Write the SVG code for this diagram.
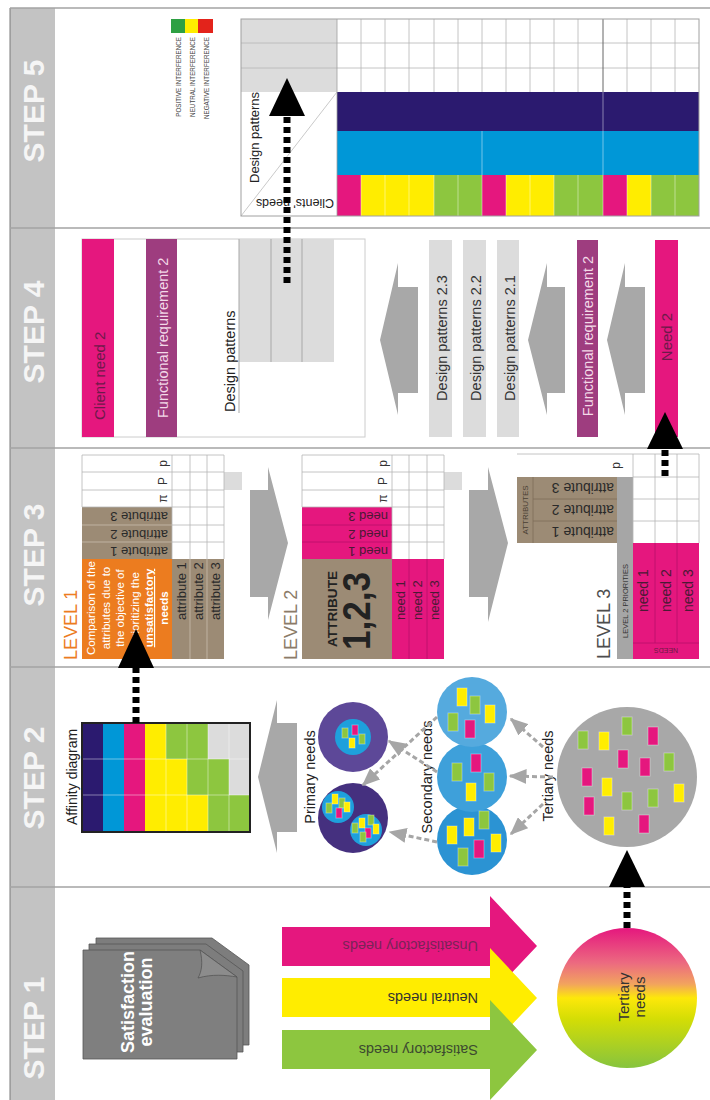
<svg xmlns="http://www.w3.org/2000/svg" width="710" height="1100" viewBox="0 0 710 1100">
<defs>
<style>
text{font-family:"Liberation Sans",Arial,sans-serif}
.sl{font-size:30px;font-weight:bold;fill:#f5f5f5}
.dv{stroke:#a3a3a3;stroke-width:1.5}
.gl{stroke:#b5b5b5;stroke-width:0.8;fill:none}
.wl{stroke:#ffffff;stroke-opacity:0.55;stroke-width:0.8;fill:none}
.pk{fill:#e5177e}.yl{fill:#ffed00}.gr{fill:#8dc63f}.db{fill:#2b1a6f}.cy{fill:#0097d7}
.lg{fill:#dcdcdc}.br{fill:#9c8b75}.or{fill:#ec7c1f}.pu{fill:#9e3d7f}
.ga{fill:#a8a8a8}
.bd{stroke:#000;stroke-width:7;stroke-dasharray:6 4;fill:none}
.gd{stroke:#a6a6a6;stroke-width:3;stroke-dasharray:5 3;fill:none;marker-end:url(#gah)}
.sq{stroke:#ffffff;stroke-opacity:0.35;stroke-width:1}
.t14{font-size:14.5px}
</style>
<linearGradient id="tg" x1="0" y1="0" x2="0" y2="1">
<stop offset="0" stop-color="#e5177e"/>
<stop offset="0.25" stop-color="#ec6a80"/>
<stop offset="0.4" stop-color="#f2a35e"/>
<stop offset="0.5" stop-color="#fde80a"/>
<stop offset="0.65" stop-color="#d4dd05"/>
<stop offset="1" stop-color="#86c43e"/>
</linearGradient>
<marker id="gah" viewBox="0 0 12 10" refX="11" refY="5" markerWidth="6" markerHeight="5" orient="auto" markerUnits="strokeWidth">
<path d="M0,0 L12,5 L0,10 z" fill="#a6a6a6"/>
</marker>
</defs>

<rect x="0" y="0" width="710" height="1100" fill="#ffffff"/>

<g id="frame">
<rect x="10" y="8" width="45" height="1092" fill="#c3c3c3"/>
<line x1="10" y1="8" x2="10" y2="1100" stroke="#7a7a7a" stroke-width="1"/>
<line class="dv" x1="10" y1="8" x2="710" y2="8"/>
<line class="dv" x1="10" y1="228" x2="710" y2="228"/>
<line class="dv" x1="10" y1="448" x2="710" y2="448"/>
<line class="dv" x1="10" y1="667" x2="710" y2="667"/>
<line class="dv" x1="10" y1="887" x2="710" y2="887"/>
<text class="sl" text-anchor="middle" transform="translate(44,111) rotate(-90)">STEP 5</text>
<text class="sl" text-anchor="middle" transform="translate(44,332) rotate(-90)">STEP 4</text>
<text class="sl" text-anchor="middle" transform="translate(44,555) rotate(-90)">STEP 3</text>
<text class="sl" text-anchor="middle" transform="translate(44,778) rotate(-90)">STEP 2</text>
<text class="sl" text-anchor="middle" transform="translate(44,1028) rotate(-90)">STEP 1</text>
</g>

<!-- STEP 1 -->
<g id="satisfaction-evaluation">
<polygon points="96,938 212,938 249,965 249,1045 96,1045" fill="#7d7d7d" stroke="#555" stroke-width="0.8"/>
<polygon points="89,944 206,944 243,971 243,1052 89,1052" fill="#7d7d7d" stroke="#555" stroke-width="0.8"/>
<polygon points="83,950 200,950 237,977 237,1059 83,1059" fill="#7f7f7f" stroke="#555" stroke-width="0.8"/>
<path d="M200,950 C203,962 202,971 198,978 C212,974 225,975 237,977 Z" fill="#8c8c8c" stroke="#555" stroke-width="0.8"/>
<text font-size="18" font-weight="bold" fill="#ffffff" text-anchor="middle" transform="translate(134,1002) rotate(-90)">Satisfaction</text>
<text font-size="18" font-weight="bold" fill="#ffffff" text-anchor="middle" transform="translate(152,1002) rotate(-90)">evaluation</text>
</g>

<g id="arrow-unsatisfactory">
<polygon class="pk" points="282,927 490,927 490,896 537,946 490,996 490,966 282,966"/>
<text class="t14" fill="#7b2358" transform="translate(478,941) rotate(180)">Unsatisfactory needs</text>
</g>
<g id="arrow-neutral">
<polygon class="yl" points="282,978 490,978 490,948 537,998 490,1048 490,1017 282,1017"/>
<text class="t14" fill="#333" transform="translate(478,992.5) rotate(180)">Neutral needs</text>
</g>
<g id="arrow-satisfactory">
<polygon class="gr" points="282,1030 490,1030 490,1000 537,1050 490,1100 490,1069 282,1069"/>
<text class="t14" fill="#3c4a30" transform="translate(478,1044.5) rotate(180)">Satisfactory needs</text>
</g>

<g id="tertiary-needs-gradient">
<circle cx="627" cy="998" r="70" fill="url(#tg)"/>
<text font-size="15" fill="#333" text-anchor="middle" transform="translate(629,997) rotate(-90)">Tertiary</text>
<text font-size="15" fill="#333" text-anchor="middle" transform="translate(645,997) rotate(-90)">needs</text>
</g>

<!-- STEP 2 -->
<g id="affinity-diagram">
<rect class="db" x="82" y="723" width="21" height="109"/>
<rect class="cy" x="103" y="723" width="21" height="109"/>
<rect class="pk" x="124" y="723" width="21" height="109"/>
<rect class="yl" x="145" y="723" width="21" height="36"/>
<rect class="gr" x="166" y="723" width="21" height="36"/>
<rect class="gr" x="187" y="723" width="21" height="36"/>
<rect class="lg" x="208" y="723" width="21" height="36"/>
<rect class="lg" x="229" y="723" width="21" height="36"/>
<rect class="yl" x="145" y="759" width="21" height="36"/>
<rect class="yl" x="166" y="759" width="21" height="36"/>
<rect class="gr" x="187" y="759" width="21" height="36"/>
<rect class="gr" x="208" y="759" width="21" height="36"/>
<rect class="lg" x="229" y="759" width="21" height="36"/>
<rect class="yl" x="145" y="795" width="21" height="37"/>
<rect class="yl" x="166" y="795" width="21" height="37"/>
<rect class="yl" x="187" y="795" width="21" height="37"/>
<rect class="gr" x="208" y="795" width="21" height="37"/>
<rect class="gr" x="229" y="795" width="21" height="37"/>
<path class="wl" d="M82,759H250M82,795H250M166,723V832M187,723V832M208,723V832M229,723V832"/>
<rect x="82" y="723" width="168" height="109" fill="none" stroke="#222" stroke-width="2"/>
<text font-size="14" fill="#222" transform="translate(77,825) rotate(-90)">Affinity diagram</text>
</g>

<g id="primary-needs">
<circle cx="353" cy="737" r="35" fill="#5d4898"/>
<circle cx="353" cy="737" r="18" fill="#1ea0dc"/>
<g class="sq">
<rect class="gr" x="342" y="728" width="6" height="10"/>
<rect class="pk" x="352" y="725" width="6" height="10"/>
<rect class="yl" x="349" y="738" width="6" height="10"/>
<rect class="gr" x="359" y="734" width="6" height="10"/>
</g>
<circle cx="353" cy="818" r="35" fill="#45307f"/>
<circle cx="338" cy="807" r="16" fill="#1ea0dc"/>
<circle cx="366" cy="830" r="16" fill="#1ea0dc"/>
<g class="sq">
<rect class="yl" x="332" y="794" width="6" height="10"/>
<rect class="gr" x="339" y="798" width="6" height="10"/>
<rect class="yl" x="344" y="802" width="6" height="10"/>
<rect class="gr" x="326" y="803" width="6" height="10"/>
<rect class="pk" x="336" y="808" width="6" height="10"/>
<rect class="yl" x="359" y="818" width="6" height="10"/>
<rect class="gr" x="368" y="815" width="6" height="10"/>
<rect class="gr" x="352" y="823" width="6" height="10"/>
<rect class="pk" x="365" y="828" width="6" height="10"/>
<rect class="yl" x="373" y="824" width="6" height="10"/>
<rect class="gr" x="360" y="832" width="6" height="10"/>
</g>
<text class="t14" fill="#222" text-anchor="middle" transform="translate(315,777) rotate(-90)">Primary needs</text>
</g>

<g id="secondary-needs">
<circle cx="472" cy="840" r="35" fill="#2b93d3"/>
<circle cx="472" cy="777" r="35" fill="#3ea0da"/>
<circle cx="472" cy="712" r="35" fill="#55aade"/>
<g class="sq">
<rect class="yl" x="457" y="688" width="10" height="18"/>
<rect class="gr" x="470" y="696" width="10" height="18"/>
<rect class="gr" x="448" y="713" width="10" height="18"/>
<rect class="yl" x="485" y="705" width="10" height="18"/>
<rect class="pk" x="465" y="720" width="10" height="18"/>
<rect class="gr" x="452" y="763" width="10" height="18"/>
<rect class="pk" x="471" y="754" width="10" height="18"/>
<rect class="gr" x="484" y="773" width="10" height="18"/>
<rect class="yl" x="466" y="783" width="10" height="18"/>
<rect class="yl" x="447" y="826" width="10" height="18"/>
<rect class="yl" x="464" y="818" width="10" height="18"/>
<rect class="gr" x="479" y="811" width="10" height="18"/>
<rect class="pk" x="474" y="840" width="10" height="18"/>
<rect class="yl" x="491" y="834" width="10" height="18"/>
<rect class="gr" x="458" y="848" width="10" height="18"/>
</g>
<text class="t14" fill="#222" text-anchor="middle" transform="translate(432,777) rotate(-90)">Secondary needs</text>
</g>

<g id="tertiary-needs">
<circle cx="627" cy="777" r="70" fill="#a8a8a8"/>
<g class="sq">
<rect class="gr" x="578" y="731" width="10" height="18"/>
<rect class="yl" x="599" y="732" width="10" height="18"/>
<rect class="gr" x="622" y="717" width="10" height="18"/>
<rect class="pk" x="648" y="727" width="10" height="18"/>
<rect class="pk" x="618" y="750" width="10" height="18"/>
<rect class="pk" x="640" y="758" width="10" height="18"/>
<rect class="gr" x="664" y="753" width="10" height="18"/>
<rect class="pk" x="582" y="768" width="10" height="18"/>
<rect class="yl" x="602" y="778" width="10" height="18"/>
<rect class="pk" x="584" y="797" width="10" height="18"/>
<rect class="gr" x="622" y="792" width="10" height="18"/>
<rect class="gr" x="648" y="789" width="10" height="18"/>
<rect class="yl" x="674" y="784" width="10" height="18"/>
<rect class="yl" x="604" y="817" width="10" height="18"/>
<rect class="pk" x="639" y="815" width="10" height="18"/>
</g>
<text class="t14" fill="#222" text-anchor="middle" transform="translate(553,776) rotate(-90)">Tertiary needs</text>
</g>

<!-- STEP 3 -->
<g id="level-1">
<text font-size="18" fill="#ec7c1f" transform="translate(77,660) rotate(-90)">LEVEL 1</text>
<rect x="82" y="455" width="142" height="52" fill="#fff"/>
<rect class="br" x="82" y="507" width="90" height="52"/>
<rect class="or" x="82" y="559" width="90" height="100"/>
<rect class="br" x="172" y="559" width="52" height="100"/>
<rect class="lg" x="224" y="472" width="18" height="18"/>
<path class="gl" d="M82,472H224M82,490H224M82,507H224M172,525H224M172,542H224M172,455V559M190,455V559M207,455V559M82,455H224V559M82,455V507"/>
<path d="M82,525H172M82,542H172M190,559V659M207,559V659" stroke="#c9bdad" stroke-width="0.8" fill="none"/>
<text font-size="12" fill="#333" text-anchor="middle" transform="translate(167,463.5) rotate(-90)">p</text>
<text font-size="12" fill="#333" text-anchor="middle" transform="translate(167,481) rotate(-90)">P</text>
<text font-size="12" fill="#333" text-anchor="middle" transform="translate(167,498.5) rotate(-90)">π</text>
<text font-size="13" fill="#2a2a2a" transform="translate(168,512) rotate(180)">attribute 3</text>
<text font-size="13" fill="#2a2a2a" transform="translate(168,529.5) rotate(180)">attribute 2</text>
<text font-size="13" fill="#2a2a2a" transform="translate(168,546.5) rotate(180)">attribute 1</text>
<g font-size="11.5" fill="#ffffff" text-anchor="middle">
<text transform="translate(95,608) rotate(-90)">Comparison of the</text>
<text transform="translate(109.5,608) rotate(-90)">attributes due to</text>
<text transform="translate(124,608) rotate(-90)">the objective of</text>
<text transform="translate(138.5,608) rotate(-90)">prioritizing the</text>
<text font-weight="bold" text-decoration="underline" transform="translate(153,608) rotate(-90)">unsatisfactory</text>
<text font-weight="bold" transform="translate(167.5,608) rotate(-90)">needs</text>
</g>
<text font-size="13" fill="#2a2a2a" transform="translate(186,620) rotate(-90)">attribute 1</text>
<text font-size="13" fill="#2a2a2a" transform="translate(203,620) rotate(-90)">attribute 2</text>
<text font-size="13" fill="#2a2a2a" transform="translate(220,620) rotate(-90)">attribute 3</text>
</g>

<g id="level-2">
<text font-size="18" fill="#8b7b68" transform="translate(297,660) rotate(-90)">LEVEL 2</text>
<rect x="302" y="455" width="142" height="52" fill="#fff"/>
<rect class="pk" x="302" y="507" width="90" height="52"/>
<rect class="br" x="302" y="559" width="90" height="100"/>
<rect class="pk" x="392" y="559" width="52" height="100"/>
<rect class="lg" x="444" y="472" width="18" height="18"/>
<path class="gl" d="M302,472H444M302,490H444M302,507H444M392,525H444M392,542H444M392,455V559M409,455V559M427,455V559M302,455H444V559M302,455V507"/>
<path d="M302,525H392M302,542H392M409,559V659M427,559V659" stroke="#b8106a" stroke-width="0.8" fill="none"/>
<text font-size="12" fill="#333" text-anchor="middle" transform="translate(387,463.5) rotate(-90)">p</text>
<text font-size="12" fill="#333" text-anchor="middle" transform="translate(387,481) rotate(-90)">P</text>
<text font-size="12" fill="#333" text-anchor="middle" transform="translate(387,498.5) rotate(-90)">π</text>
<text font-size="13" fill="#4a1a35" transform="translate(388,512) rotate(180)">need 3</text>
<text font-size="13" fill="#4a1a35" transform="translate(388,529.5) rotate(180)">need 2</text>
<text font-size="13" fill="#4a1a35" transform="translate(388,546.5) rotate(180)">need 1</text>
<text font-size="13.6" font-weight="bold" fill="#222" text-anchor="middle" transform="translate(337,609) rotate(-90)">ATTRIBUTE</text>
<text font-size="38" font-weight="bold" fill="#222" text-anchor="middle" textLength="78" lengthAdjust="spacingAndGlyphs" transform="translate(370,611) rotate(-90)">1,2,3</text>
<text font-size="13" fill="#4a1a35" transform="translate(405,620) rotate(-90)">need 1</text>
<text font-size="13" fill="#4a1a35" transform="translate(422,620) rotate(-90)">need 2</text>
<text font-size="13" fill="#4a1a35" transform="translate(439,620) rotate(-90)">need 3</text>
</g>

<g id="level-3">
<text font-size="18" fill="#4d4d4d" transform="translate(610,659) rotate(-90)">LEVEL 3</text>
<rect x="517" y="454" width="182" height="23" fill="#fff"/>
<rect class="br" x="517" y="477" width="100" height="66"/>
<rect x="617" y="477" width="16" height="182" fill="#a6a6a6"/>
<rect x="633" y="477" width="66" height="66" fill="#fff"/>
<rect class="pk" x="633" y="543" width="66" height="116"/>
<path d="M533,477V543M533,499H617M533,521H617" stroke="#7d6d58" stroke-width="0.8" fill="none"/>
<path class="gl" d="M633,454V543M655,454V543M677,454V543M633,477H699M633,499H699M633,521H699M517,454H699V543"/>
<path d="M655,543V643M677,543V643M633,643H699" stroke="#b8106a" stroke-width="0.8" fill="none"/>
<text font-size="12" fill="#333" text-anchor="middle" transform="translate(620,465.5) rotate(-90)">p</text>
<text font-size="8" fill="#4a3f33" text-anchor="middle" transform="translate(528,510) rotate(-90)">ATTRIBUTES</text>
<text font-size="14" fill="#2a2a2a" transform="translate(614,483) rotate(180)">attribute 3</text>
<text font-size="14" fill="#2a2a2a" transform="translate(614,505) rotate(180)">attribute 2</text>
<text font-size="14" fill="#2a2a2a" transform="translate(614,527) rotate(180)">attribute 1</text>
<text font-size="7.5" fill="#333" transform="translate(628,638) rotate(-90)">LEVEL 2 PRIORITIES</text>
<text font-size="14" fill="#4a1a35" transform="translate(648,612) rotate(-90)">need 1</text>
<text font-size="14" fill="#4a1a35" transform="translate(671,612) rotate(-90)">need 2</text>
<text font-size="14" fill="#4a1a35" transform="translate(693,612) rotate(-90)">need 3</text>
<text font-size="7" fill="#6b1a45" text-anchor="middle" transform="translate(666,647.5) rotate(180)">NEEDS</text>
</g>

<!-- STEP 4 -->
<g id="step4-summary">
<rect x="82" y="239" width="283" height="198" fill="#fff" stroke="#cccccc" stroke-width="1"/>
<rect class="pk" x="82" y="239" width="32" height="198"/>
<text font-size="15" fill="#6d1a4a" transform="translate(105,420) rotate(-90)">Client need 2</text>
<rect class="pu" x="146" y="239" width="31" height="198"/>
<text font-size="14.5" fill="#f3d9e8" transform="translate(168,418) rotate(-90)">Functional requirement 2</text>
<rect class="lg" x="239" y="239" width="95" height="123"/>
<path d="M271,239V362M302,239V362" stroke="#a8a8a8" stroke-width="1" fill="none"/>
<line x1="239" y1="239" x2="239" y2="413" stroke="#a8a8a8" stroke-width="1"/>
<text font-size="14.5" fill="#222" transform="translate(235,412) rotate(-90)">Design patterns</text>
</g>

<g id="step4-need">
<rect class="pk" x="655" y="240" width="23" height="197"/>
<text font-size="15" fill="#6d1a4a" text-anchor="middle" transform="translate(672,337) rotate(-90)">Need 2</text>
</g>
<g id="step4-functional">
<rect class="pu" x="577" y="240" width="21" height="197"/>
<text font-size="14.5" fill="#f3d9e8" text-anchor="middle" transform="translate(593,336) rotate(-90)">Functional requirement 2</text>
</g>
<g id="step4-patterns">
<rect class="lg" x="497" y="240" width="22" height="197"/>
<text font-size="14.5" fill="#333" text-anchor="middle" transform="translate(515,338) rotate(-90)">Design patterns 2.1</text>
<rect class="lg" x="463" y="240" width="23" height="197"/>
<text font-size="14.5" fill="#333" text-anchor="middle" transform="translate(481,338) rotate(-90)">Design patterns 2.2</text>
<rect class="lg" x="429" y="240" width="23" height="197"/>
<text font-size="14.5" fill="#333" text-anchor="middle" transform="translate(447,338) rotate(-90)">Design patterns 2.3</text>
</g>

<!-- STEP 5 -->
<g id="legend">
<rect x="171" y="19" width="14" height="14" fill="#2ea043"/>
<rect x="185" y="19" width="13" height="14" fill="#ffed00"/>
<rect x="198" y="19" width="15" height="14" fill="#e3231b"/>
<g font-size="6.3" fill="#444" text-anchor="end">
<text transform="translate(181,37) rotate(-90)">POSITIVE INTERFERENCE</text>
<text transform="translate(195,37) rotate(-90)">NEUTRAL INTERFERENCE</text>
<text transform="translate(209,37) rotate(-90)">NEGATIVE INTERFERENCE</text>
</g>
</g>

<g id="interference-matrix">
<rect class="lg" x="241" y="19" width="96" height="73"/>
<rect x="241" y="92" width="96" height="124" fill="#fff"/>
<rect x="337" y="19" width="362" height="73" fill="#fff"/>
<rect class="db" x="337" y="92" width="362" height="39"/>
<rect class="cy" x="337" y="131" width="362" height="44"/>
<rect class="pk" x="337" y="175" width="24" height="41"/>
<rect class="yl" x="361" y="175" width="73" height="41"/>
<rect class="gr" x="434" y="175" width="48" height="41"/>
<rect class="pk" x="482" y="175" width="24" height="41"/>
<rect class="yl" x="506" y="175" width="48" height="41"/>
<rect class="gr" x="554" y="175" width="49" height="41"/>
<rect class="pk" x="603" y="175" width="24" height="41"/>
<rect class="yl" x="627" y="175" width="24" height="41"/>
<rect class="gr" x="651" y="175" width="48" height="41"/>
<path class="wl" d="M361,175V216M385,175V216M409,175V216M434,175V216M458,175V216M482,175V216M506,175V216M530,175V216M554,175V216M578,175V216M603,175V216M627,175V216M651,175V216M675,175V216"/>
<path d="M482,131V175M603,92V175" stroke="#ffffff" stroke-opacity="0.45" stroke-width="1" fill="none"/>
<path class="gl" d="M241,43H699M241,68H699M361,19V92M385,19V92M409,19V92M434,19V92M458,19V92M482,19V92M506,19V92M530,19V92M554,19V92M578,19V92M627,19V92M651,19V92M675,19V92"/>
<line x1="603" y1="19" x2="603" y2="92" stroke="#666" stroke-width="1"/>
<line x1="241" y1="216" x2="337" y2="92" stroke="#bbbbbb" stroke-width="0.8"/>
<rect x="241" y="19" width="458" height="197" fill="none" stroke="#a0a0a0" stroke-width="1"/>
<line x1="337" y1="19" x2="337" y2="216" stroke="#a0a0a0" stroke-width="0.8"/>
<text font-size="13" fill="#222" transform="translate(259,183) rotate(-90)">Design patterns</text>
<text font-size="12.5" fill="#222" transform="translate(334,199) rotate(180)">Clients' needs</text>
</g>

<!-- CONNECTORS -->
<g id="connectors">
<polygon class="ga" points="297,723 277,723 277,700 258,777 277,853 277,832 297,832"/>
<polygon class="ga" points="250,490 268,490 268,467 288,543 268,620 268,597 250,597"/>
<polygon class="ga" points="469,490 488,490 488,467 508,543 488,622 488,597 469,597"/>
<polygon class="ga" points="645,287 625,287 625,263 607,340 625,415 625,393 645,393"/>
<polygon class="ga" points="565,287 547,287 547,263 528,340 547,415 547,393 565,393"/>
<polygon class="ga" points="418,287 398,287 398,263 380,340 398,415 398,393 418,393"/>
<line class="gd" x1="543" y1="747" x2="511" y2="719"/>
<line class="gd" x1="553" y1="777" x2="510" y2="776"/>
<line class="gd" x1="543" y1="804" x2="511" y2="834"/>
<line class="gd" x1="437" y1="717" x2="363" y2="785"/>
<line class="gd" x1="437" y1="772" x2="389" y2="741"/>
<line class="gd" x1="437" y1="842" x2="390" y2="832"/>
<line class="bd" x1="627" y1="928" x2="627" y2="887"/>
<polygon points="609,887 645,887 627,850" fill="#000"/>
<line class="bd" x1="136" y1="723" x2="136" y2="668"/>
<polygon points="118,668 154,668 136,629" fill="#000"/>
<line class="bd" x1="665" y1="476" x2="665" y2="449"/>
<polygon points="647,449 683,449 665,412" fill="#000"/>
<line class="bd" x1="287" y1="283" x2="287" y2="116"/>
<polygon points="269,116 305,116 287,78" fill="#000"/>
</g>
</svg>
